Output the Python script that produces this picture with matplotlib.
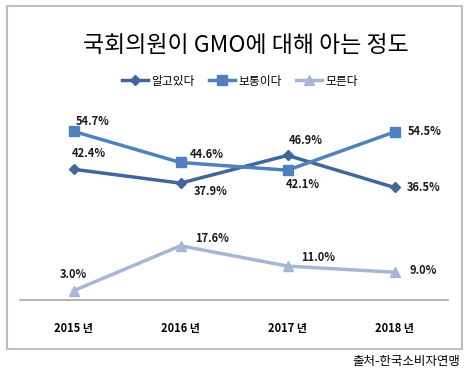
import matplotlib.pyplot as plt
from matplotlib.patches import Rectangle

plt.rcParams['font.family'] = ['Noto Sans CJK KR', 'DejaVu Sans']

years = ['2015 년', '2016 년', '2017 년', '2018 년']
know = [42.4, 37.9, 46.9, 36.5]
normal = [54.7, 44.6, 42.1, 54.5]
dont_know = [3.0, 17.6, 11.0, 9.0]

# label offsets in points
off_know = [(11, 11), (22, -6), (13, 11), (21, 0)]
off_normal = [(14, 7), (19, 6), (11, -10), (22, 0)]
off_dont = [(0, 12), (23, 5), (22, 6), (21, 1)]

fig = plt.figure(figsize=(4.67, 3.75), dpi=100)
fig.patches.append(Rectangle((7 / 467, 1 - 349 / 375), 455 / 467, 343 / 375,
                             transform=fig.transFigure, fill=False,
                             edgecolor='#bfbfbf', linewidth=1.5, zorder=0))

ax = fig.add_axes([20 / 467, 1 - 300 / 375, 428 / 467, 185 / 375])
x = range(len(years))

series = [
    (know, '알고있다', '#41679a', 'D', 5, off_know),
    (normal, '보통이다', '#4f81bd', 's', 7, off_normal),
    (dont_know, '모른다', '#a5b6d6', '^', 7, off_dont),
]
for vals, name, col, mk, ms, offs in series:
    ax.plot(x, vals, color=col, marker=mk, markersize=ms, linewidth=2.5, label=name)
    for i, v in enumerate(vals):
        ax.annotate(f'{v:.1f}%', (i, v), xytext=offs[i], textcoords='offset points',
                    ha='center', va='center', fontsize=8, fontweight='bold',
                    color='#1a1a1a')

ax.set_xlim(-0.5, 3.5)
ax.set_ylim(0, 60)
ax.set_xticks(list(x))
ax.set_xticklabels(years, fontsize=8, fontweight='bold')
ax.tick_params(axis='x', length=0, pad=16)
ax.set_yticks([])
for s in ['top', 'left', 'right']:
    ax.spines[s].set_visible(False)
ax.spines['bottom'].set_color('#a6a6a6')
ax.spines['bottom'].set_linewidth(1.2)

fig.text(246 / 467, 1 - 45 / 375, '국회의원이 GMO에 대해 아는 정도', ha='center', va='center',
         fontsize=16.5)
fig.legend(loc='center', bbox_to_anchor=(240 / 467, 1 - 81 / 375), ncol=3, frameon=False,
           fontsize=8.5, handlelength=2.2, handletextpad=0.3, columnspacing=1.2)
fig.text(460 / 467, 1 - 362 / 375, '출처-한국소비자연맹', ha='right', va='center', fontsize=9)

fig.savefig('out.png', dpi=100)
